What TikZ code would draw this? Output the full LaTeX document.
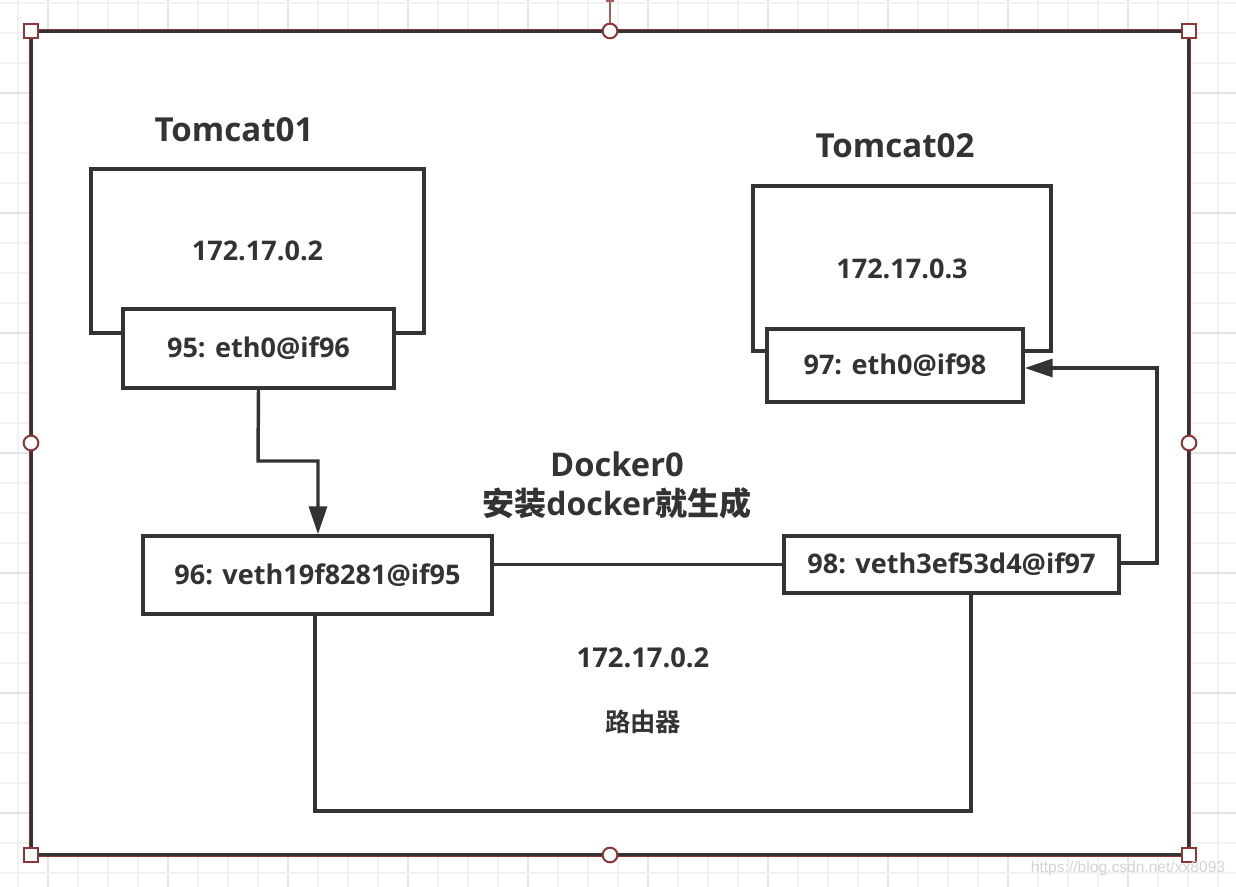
\documentclass[tikz,border=0pt]{standalone}
\usepackage{fontspec}
\setmainfont{Open Sans}
\newfontfamily\cjk{Noto Sans CJK SC Bold}
\newfontfamily\wmfont{Liberation Sans}
\usetikzlibrary{arrows.meta}
\definecolor{ink}{HTML}{333333}
\definecolor{sel}{HTML}{8E3535}
\definecolor{selline}{HTML}{A85C5C}
\definecolor{gridminor}{HTML}{F1F1F1}
\definecolor{gridmajor}{HTML}{E4E4E4}
\definecolor{wmgray}{HTML}{D4D4D4}
\tikzset{
  box/.style={draw=ink, line width=2.6pt, fill=white, inner sep=0pt, text=ink,
    font=\bfseries\fontsize{20.3}{24}\selectfont},
  title/.style={text=ink, inner sep=0pt, font=\bfseries\fontsize{24.8}{28}\selectfont},
  lbl/.style={text=ink, inner sep=0pt, font=\bfseries\fontsize{20.5}{24}\selectfont},
  conn/.style={draw=ink, line width=2.6pt},
  arr/.style={conn, -{Triangle[length=21pt,width=13.5pt]}},
  sqhandle/.style={draw=sel, line width=1.5pt, fill=white, minimum size=11pt, inner sep=0pt},
  cirhandle/.style={draw=sel, line width=1.5pt, fill=white, circle, minimum size=11pt, inner sep=0pt},
}
\begin{document}
\begin{tikzpicture}[x=0.75pt,y=-0.75pt]
\useasboundingbox (0,0) rectangle (1236,887);
\fill[white] (0,0) rectangle (1236,887);
% background grid
\foreach \i in {0,...,40} {
  \pgfmathtruncatemacro\xx{18+30*\i}
  \pgfmathtruncatemacro\mj{mod(\i+3,4)==0 ? 1 : 0}
  \ifnum\mj=1
    \draw[gridmajor, line width=1.5pt] (\xx,0) -- (\xx,887);
  \else
    \draw[gridminor, line width=1.2pt] (\xx,0) -- (\xx,887);
  \fi
}
\foreach \j in {0,...,29} {
  \pgfmathtruncatemacro\yy{3+30*\j}
  \pgfmathtruncatemacro\mj{mod(\j+1,4)==0 ? 1 : 0}
  \ifnum\mj=1
    \draw[gridmajor, line width=1.5pt] (0,\yy) -- (1236,\yy);
  \else
    \draw[gridminor, line width=1.2pt] (0,\yy) -- (1236,\yy);
  \fi
}
% frame
\fill[white] (31,31) rectangle (1189,855);
\draw[ink, line width=2.8pt] (31,31) rectangle (1189,855);
\draw[sel, line width=0.9pt] (29.3,29.3) rectangle (1190.7,856.7);
% rotation handle line
\draw[selline, line width=1.2pt] (610,0) -- (610,24);
\fill[selline] (606,0) rectangle (614,2);

% Tomcat01
\node[title] (t1) at (234,130) {Tomcat01};
\node[box, minimum width=249.75pt, minimum height=123pt] (c1) at (257.5,251) {172.17.0.2};
\node[box, minimum width=203.25pt, minimum height=59.25pt] (eth95) at (258.5,348.5) {95: eth0@if96};

% Tomcat02
\node[title] (t2) at (895,146) {Tomcat02};
\node[box, minimum width=223.5pt, minimum height=123.75pt] (c2) at (902,268.5) {172.17.0.3};
\node[box, minimum width=192pt, minimum height=54.75pt] (eth97) at (895,365.5) {97: eth0@if98};

% Docker0 label
\node[text=ink, inner sep=0pt, font=\bfseries\fontsize{24.5}{28}\selectfont] (d0) at (617,464) {Docker0};
\node[text=ink, inner sep=0pt, font=\bfseries\fontsize{24}{28}\selectfont] (d0b) at (617,503) {{\cjk 安装}docker{\cjk 就生成}};

% veth boxes
\node[box, minimum width=261.75pt, minimum height=58.5pt] (veth96) at (317.5,575) {96: veth19f8281@if95};
\node[box, minimum width=251.25pt, minimum height=42.75pt] (veth98) at (951.5,564.5) {98: veth3ef53d4@if97};

% router
\coordinate (rl) at (315,811);
\coordinate (rr) at (971,811);
\node[lbl] (rip) at (643,658) {172.17.0.2};
\node[text=ink, inner sep=0pt, font=\cjk\fontsize{19}{23}\selectfont] (rt) at (643,722) {路由器};

% connectors
\coordinate (a1) at (258,461);
\coordinate (a2) at (318,461);
\draw[arr] (eth95.south) -- (a1) -- (a2) -- (a2 |- veth96.north);
\draw[conn] (veth98.west -| veth96.east) -- (veth98.west);
\coordinate (b1) at (1157,563);
\coordinate (b2) at (1157,368);
\draw[arr] (b1 -| veth98.east) -- (b1) -- (b2) -- (b2 -| eth97.east);
\draw[conn] (rl |- veth96.south) -- (rl) -- (rr) -- (rr |- veth98.south);

% handles
\node[sqhandle] (h1) at (31,31) {};
\node[sqhandle] (h2) at (1189,31) {};
\node[sqhandle] (h3) at (31,855) {};
\node[sqhandle] (h4) at (1189,855) {};
\node[cirhandle] (h5) at (610,31) {};
\node[cirhandle] (h6) at (31,443) {};
\node[cirhandle] (h7) at (1189,443) {};
\node[cirhandle] (h8) at (610,855) {};

% watermark
\node[text=wmgray, inner sep=0pt, font=\wmfont\fontsize{11.7}{14}\selectfont] (wm) at (1128,868) {https://blog.csdn.net/xx8093};
\end{tikzpicture}
\end{document}
